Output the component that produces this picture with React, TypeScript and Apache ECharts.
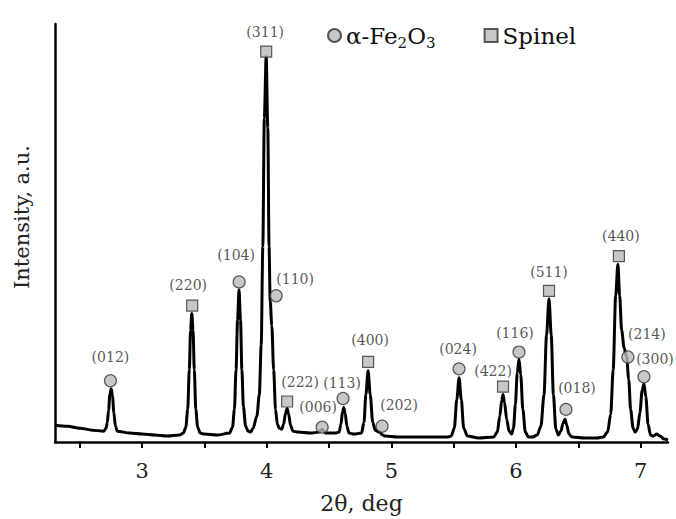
import React, { useEffect, useRef } from "react";
import * as echarts from "echarts";

// XRD pattern (2θ in deg, intensity in a.u.)
const patternX = [
  2.30, 2.40, 2.50, 2.60, 2.69, 2.71, 2.72, 2.73, 2.74, 2.751, 2.762, 2.772, 2.785, 2.80, 2.90,
  3.00, 3.10, 3.20, 3.30, 3.33, 3.35, 3.365, 3.378, 3.388, 3.398, 3.408, 3.418, 3.43, 3.445, 3.465,
  3.50, 3.60, 3.70, 3.725, 3.74, 3.753, 3.765, 3.777, 3.789, 3.80, 3.812, 3.83, 3.85, 3.87, 3.89,
  3.92, 3.94, 3.955, 3.968, 3.98, 3.995, 4.008, 4.018, 4.027, 4.04, 4.055, 4.07, 4.085, 4.10, 4.12,
  4.135, 4.15, 4.163, 4.176, 4.19, 4.21, 4.25, 4.35, 4.42, 4.445, 4.47, 4.55, 4.58, 4.595, 4.607,
  4.618, 4.629, 4.643, 4.66, 4.70, 4.76, 4.78, 4.795, 4.813, 4.83, 4.85, 4.87, 4.905, 4.93, 4.95,
  5.05, 5.20, 5.35, 5.45, 5.48, 5.505, 5.525, 5.543, 5.561, 5.58, 5.61, 5.70, 5.82, 5.85, 5.87,
  5.885, 5.896, 5.908, 5.925, 5.945, 5.965, 5.98, 5.995, 6.01, 6.024, 6.038, 6.055, 6.075, 6.10, 6.13,
  6.17, 6.20, 6.225, 6.245, 6.265, 6.283, 6.30, 6.32, 6.34, 6.36, 6.378, 6.393, 6.408, 6.425, 6.45,
  6.55, 6.65, 6.70, 6.735, 6.76, 6.78, 6.80, 6.818, 6.832, 6.848, 6.868, 6.888, 6.905, 6.92, 6.94,
  6.955, 6.975, 6.995, 7.012, 7.027, 7.042, 7.06, 7.08, 7.10, 7.13, 7.155, 7.19, 7.22,
];
const patternY = [
  19, 18, 16, 14, 13, 16, 22, 34, 50, 56, 48, 32, 18, 13, 11,
  10, 9, 8, 9, 11, 17, 35, 75, 115, 132, 115, 75, 35, 17, 11,
  10, 9, 11, 17, 35, 75, 125, 156, 125, 75, 38, 18, 13, 12, 16,
  28, 50, 100, 200, 330, 392, 320, 200, 145, 120, 75, 35, 20, 16, 15,
  20, 31, 36, 30, 19, 13, 12, 11, 12, 15, 11, 11, 12, 20, 32,
  37, 31, 18, 11, 10, 11, 22, 50, 74, 50, 22, 14, 12, 9, 8,
  7, 7, 7, 7, 8, 16, 45, 67, 45, 16, 8, 6, 7, 12, 28,
  44, 50, 42, 25, 13, 10, 16, 40, 72, 86, 70, 35, 12, 7, 7,
  9, 18, 50, 110, 147, 110, 50, 15, 9, 13, 21, 25, 19, 10, 7,
  6, 6, 7, 12, 30, 75, 150, 182, 150, 115, 97, 88, 65, 35, 16,
  12, 15, 32, 54, 61, 48, 20, 9, 8, 10, 8, 5, 4,
];

// α-Fe2O3 reflections
const alphaHkl = ["(012)", "(104)", "(110)", "(006)", "(113)", "(202)", "(024)", "(116)", "(018)", "(214)", "(300)"];
const alphaX = [2.745, 3.778, 4.075, 4.444, 4.612, 4.925, 5.543, 6.024, 6.401, 6.898, 7.027];
const alphaY = [64, 164, 150, 17, 46, 18, 76, 93, 35, 88, 68];

// Spinel reflections
const spinelHkl = ["(220)", "(311)", "(222)", "(400)", "(422)", "(511)", "(440)"];
const spinelX = [3.401, 3.995, 4.163, 4.813, 5.896, 6.265, 6.826];
const spinelY = [140, 397, 43, 83, 58, 155, 190];

const xTicks = [2.5, 3, 3.5, 4, 4.5, 5, 5.5, 6, 6.5, 7];
const xLabels = [3, 4, 5, 6, 7];

// label placement (style): offset of hkl label from marker centre, px
const labelOffsets: Record<string, [number, number]> = {
  "(012)": [0, -24], "(104)": [-3, -27], "(110)": [19, -17], "(006)": [-4, -20],
  "(113)": [-1, -16], "(202)": [17, -21], "(024)": [-1, -20], "(116)": [-4, -19],
  "(018)": [11, -21], "(214)": [19, -23], "(300)": [11, -18], "(220)": [-4, -21],
  "(311)": [-1, -20], "(222)": [13, -19], "(400)": [2, -22], "(422)": [-10, -16],
  "(511)": [0, -19], "(440)": [2, -20],
};

const FONT = "DejaVu Serif";
const ALPHA = "α-Fe2O3";
const SPINEL = "Spinel";

function markerData(xs: number[], ys: number[], hkl: string[]) {
  return xs.map((x, i) => ({
    value: [x, ys[i]],
    name: hkl[i],
    label: { offset: labelOffsets[hkl[i]] || [0, -20] },
  }));
}

export default function App() {
  const ref = useRef<HTMLDivElement>(null);
  useEffect(() => {
    if (!ref.current) return;
    const chart = echarts.init(ref.current, undefined, { renderer: "svg" });
    const markerStyle = { color: "#b9b9b9", borderColor: "#333", borderWidth: 1.2 };
    const markerLabel = {
      show: true,
      position: "inside" as const,
      formatter: (p: any) => p.name,
      fontFamily: FONT,
      fontSize: 14,
      color: "#2a2a2a",
    };
    chart.setOption({
      animation: false,
      backgroundColor: "#fff",
      grid: { left: 55, right: 8, top: 24, bottom: 72 },
      legend: {
        left: 322,
        top: 19,
        itemWidth: 13,
        itemHeight: 13,
        itemGap: 48,
        data: [ALPHA, SPINEL],
        formatter: (name: string) =>
          name === ALPHA ? "{n|α-Fe}{s|2}{n|O}{s|3}" : "{n|" + name + "}",
        textStyle: {
          fontFamily: FONT,
          fontSize: 23,
          color: "#111",
          rich: {
            n: { fontFamily: FONT, fontSize: 23, lineHeight: 30, color: "#111", verticalAlign: "middle" },
            s: { fontFamily: FONT, fontSize: 15, lineHeight: 15, color: "#111", verticalAlign: "bottom" },
          },
        },
      },
      xAxis: {
        type: "value",
        min: 2.3,
        max: 7.22,
        name: "2θ, deg",
        nameLocation: "middle",
        nameGap: 50,
        nameTextStyle: { fontFamily: FONT, fontSize: 22, color: "#222" },
        axisLine: { lineStyle: { color: "#000", width: 2.5 } },
        axisTick: { show: true, length: 6, customValues: xTicks, lineStyle: { color: "#000", width: 2 } },
        axisLabel: { customValues: xLabels, margin: 18, fontFamily: FONT, fontSize: 21, color: "#222" },
        splitLine: { show: false },
      },
      yAxis: {
        type: "value",
        min: 2,
        max: 425,
        axisLine: { show: true, lineStyle: { color: "#000", width: 2.5 } },
        axisTick: { show: false },
        axisLabel: { show: false },
        splitLine: { show: false },
      },
      graphic: [
        {
          type: "text",
          x: 22,
          y: 217,
          rotation: Math.PI / 2,
          style: {
            text: "Intensity, a.u.",
            fontFamily: FONT,
            fontSize: 21,
            fill: "#222",
            align: "center",
            verticalAlign: "middle",
          },
        },
      ],
      series: [
        {
          type: "line",
          name: "pattern",
          data: patternX.map((x, i) => [x, patternY[i]]),
          showSymbol: false,
          smooth: 0.3,
          smoothMonotone: "x",
          lineStyle: { color: "#000", width: 3 },
          itemStyle: { color: "#000" },
          z: 2,
        },
        {
          type: "scatter",
          name: ALPHA,
          symbol: "circle",
          symbolSize: 12,
          itemStyle: markerStyle,
          label: markerLabel,
          data: markerData(alphaX, alphaY, alphaHkl),
          z: 3,
        },
        {
          type: "scatter",
          name: SPINEL,
          symbol: "rect",
          symbolSize: 11,
          itemStyle: markerStyle,
          label: markerLabel,
          data: markerData(spinelX, spinelY, spinelHkl),
          z: 3,
        },
      ],
    });
    return () => chart.dispose();
  }, []);
  return (
    <div
      ref={ref}
      style={{ position: "fixed", left: 0, top: 0, width: 676, height: 519, background: "#fff" }}
    />
  );
}
